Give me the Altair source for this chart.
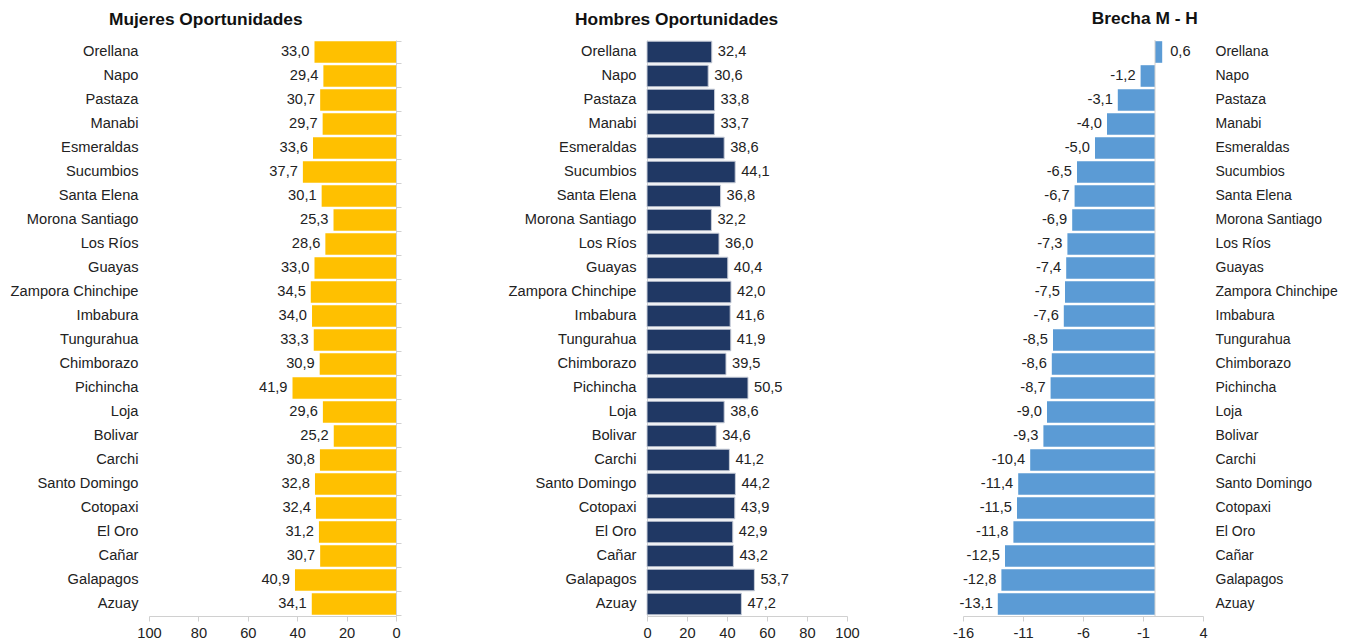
import altair as alt
import pandas as pd

categories = ["Orellana", "Napo", "Pastaza", "Manabi", "Esmeraldas", "Sucumbios",
              "Santa Elena", "Morona Santiago", "Los Ríos", "Guayas", "Zampora Chinchipe",
              "Imbabura", "Tungurahua", "Chimborazo", "Pichincha", "Loja", "Bolivar",
              "Carchi", "Santo Domingo", "Cotopaxi", "El Oro", "Cañar", "Galapagos", "Azuay"]
mujeres = [33.0, 29.4, 30.7, 29.7, 33.6, 37.7, 30.1, 25.3, 28.6, 33.0, 34.5, 34.0,
           33.3, 30.9, 41.9, 29.6, 25.2, 30.8, 32.8, 32.4, 31.2, 30.7, 40.9, 34.1]
hombres = [32.4, 30.6, 33.8, 33.7, 38.6, 44.1, 36.8, 32.2, 36.0, 40.4, 42.0, 41.6,
           41.9, 39.5, 50.5, 38.6, 34.6, 41.2, 44.2, 43.9, 42.9, 43.2, 53.7, 47.2]
brecha = [0.6, -1.2, -3.1, -4.0, -5.0, -6.5, -6.7, -6.9, -7.3, -7.4, -7.5, -7.6,
          -8.5, -8.6, -8.7, -9.0, -9.3, -10.4, -11.4, -11.5, -11.8, -12.5, -12.8, -13.1]
ticks_oport = [0, 20, 40, 60, 80, 100]
ticks_brecha = [-16, -11, -6, -1, 4]

fmt = lambda v: f"{v:.1f}".replace(".", ",")
df = pd.DataFrame({
    "cat": categories,
    "m": mujeres, "h": hombres, "b": brecha,
    "ml": [fmt(v) for v in mujeres],
    "hl": [fmt(v) for v in hombres],
    "bl": [fmt(v) for v in brecha],
})
zero = pd.DataFrame({"z": [0]})

FONT = "Liberation Sans"
FS = 14.67
GRAY = "#d0d0d0"
H = 576
yscale = alt.Scale(paddingInner=0.1, paddingOuter=0.05)

def ycat(axis=alt.Undefined):
    return alt.Y("cat:N", sort=categories, scale=yscale, axis=axis)

def xaxis(values):
    return alt.Axis(values=values, title=None, labelOverlap=False, labelFlush=False,
                    labelExpr="datum.value + ''")

base = alt.Chart(df)
txt = dict(fontSize=FS, font=FONT, color="#222")

# Panel 1: Mujeres
xs1 = alt.Scale(domain=[0, 100], reverse=True, nice=False)
xa1 = xaxis(ticks_oport)
ax1_left = alt.Axis(orient="left", domain=False, ticks=False, labelPadding=11, title=None)
bars1 = base.mark_bar(color="#FFC000").encode(
    x=alt.X("m:Q", scale=xs1, axis=xa1, title=None),
    y=ycat(ax1_left),
)
ax1_right = alt.Axis(orient="right", labels=False, domain=True, ticks=True,
                     tickBand="extent", tickSize=5, title=None)
text1 = base.mark_text(align="right", dx=-5, **txt).encode(
    x=alt.X("m:Q", scale=xs1, axis=xa1, title=None), y=ycat(ax1_right), text="ml:N",
)
p1 = alt.layer(bars1, text1).resolve_axis(y="independent").properties(
    width=247, height=H, title="Mujeres Oportunidades")

# Panel 2: Hombres
xs2 = alt.Scale(domain=[0, 100], nice=False)
xa2 = xaxis(ticks_oport)
ax2 = alt.Axis(orient="left", domain=True, ticks=False, labelPadding=11,
               title=" ", titleFontSize=1, titlePadding=13)
bars2 = base.mark_bar(color="#203864", stroke="#c8cdd8", strokeWidth=1).encode(
    x=alt.X("h:Q", scale=xs2, axis=xa2, title=None),
    y=ycat(ax2),
)
text2 = base.mark_text(align="left", dx=6, **txt).encode(
    x=alt.X("h:Q", scale=xs2, axis=xa2, title=None), y=ycat(ax2), text="hl:N")
p2 = alt.layer(bars2, text2).properties(width=200, height=H, title="Hombres Oportunidades")

# Panel 3: Brecha
xs3 = alt.Scale(domain=[-16, 4], nice=False, zero=False)
xa3 = xaxis(ticks_brecha)
ax3 = alt.Axis(orient="right", domain=False, ticks=False, labelPadding=12,
               labelFontSize=14, title=None)
bars3 = base.mark_bar(color="#5B9BD5").encode(
    x=alt.X("b:Q", scale=xs3, axis=xa3, title=None),
    y=ycat(ax3),
)
text3n = base.transform_filter("datum.b < 0").mark_text(
    align="right", dx=-5, **txt).encode(
    x=alt.X("b:Q", scale=xs3, axis=xa3, title=None), y=ycat(ax3), text="bl:N")
text3p = base.transform_filter("datum.b >= 0").mark_text(
    align="left", dx=8, **txt).encode(
    x=alt.X("b:Q", scale=xs3, axis=xa3, title=None), y=ycat(ax3), text="bl:N")
rule3 = alt.Chart(zero).mark_rule(color=GRAY).encode(
    x=alt.X("z:Q", scale=xs3, axis=xa3, title=None))
p3 = alt.layer(bars3, rule3, text3n, text3p).properties(
    width=240, height=H, title="Brecha M - H")

chart = alt.hconcat(p1, p2, p3, spacing=92).properties(
    padding={"left": 2, "top": 2, "right": 0, "bottom": 0}
).configure_view(stroke=None).configure_axis(
    grid=False, labelFont=FONT, labelFontSize=FS, labelColor="#222",
    domainColor=GRAY, tickColor=GRAY, tickSize=5, labelPadding=4,
).configure_title(
    font=FONT, fontSize=17.33, fontWeight="bold", color="#111",
    anchor="middle", frame="bounds", offset=12,
)

chart.save("out.html", embed_options={"renderer": "svg", "actions": False})
